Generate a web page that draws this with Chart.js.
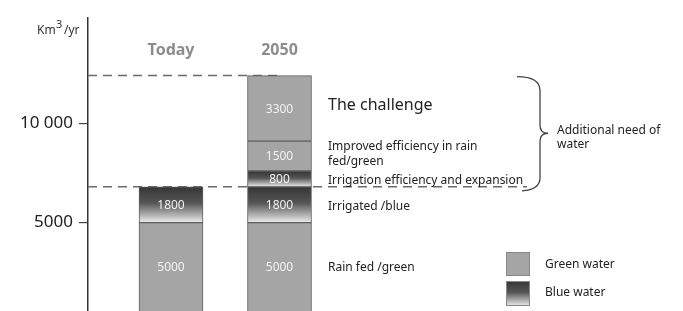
<!DOCTYPE html>
<html lang="en">
  <head>
    <meta charset="UTF-8" />
    <title>Water need 2050</title>
    <script src="https://cdn.jsdelivr.net/npm/chart.js@4.4.0/dist/chart.umd.min.js"></script>
    <style>
      html, body { margin: 0; padding: 0; background: #fff; }
      #wrap { width: 683px; height: 311px; }
    </style>
  </head>
  <body>
    <div id="wrap"><canvas id="myChart" width="683" height="311"></canvas></div>
    <script>
      const categories = ["Today", "2050"];
      const rainFed = [5000, 5000];
      const irrigated = [1800, 1800];
      const irrigationGain = [null, 800];
      const rainFedGain = [null, 1500];
      const challenge = [null, 3300];
      const yTicks = [5000, 10000];

      const notes = [
        "Rain fed /green",
        "Irrigated /blue",
        "Irrigation efficiency and expansion",
        ["Improved efficiency in rain", "fed/green"],
        "The challenge"
      ];
      const braceText = ["Additional need of", "water"];
      const legendLabels = ["Green water", "Blue water"];

      const FONT = "'Noto Sans', sans-serif";
      const GREEN = "#a5a5a5";

      function blueGradient(ctx, top, bottom) {
        const g = ctx.createLinearGradient(0, top, 0, bottom);
        g.addColorStop(0, "#353535");
        g.addColorStop(0.45, "#555555");
        g.addColorStop(0.8, "#b5b5b5");
        g.addColorStop(1, "#ececec");
        return g;
      }

      const layers = [rainFed, irrigated, irrigationGain, rainFedGain, challenge];
      const kinds = ["green", "blue", "blue", "green", "green"];

      function stackTop(di, i) {
        let s = 0;
        for (let k = 0; k <= di; k++) s += layers[k][i] || 0;
        return s;
      }

      const datasets = layers.map((values, di) => ({
        label: typeof notes[di] === "string" ? notes[di] : notes[di].join(" "),
        data: values.map((v, i) => ({ x: i + 1, y: v })),
        backgroundColor: c => {
          if (kinds[di] === "green") return GREEN;
          const chart = c.chart;
          const ys = chart.scales.y;
          if (!ys || c.dataIndex === undefined) return "#555";
          const top = ys.getPixelForValue(stackTop(di, c.dataIndex));
          const bot = ys.getPixelForValue(stackTop(di, c.dataIndex) - (values[c.dataIndex] || 0));
          if (!isFinite(top) || !isFinite(bot)) return "#555";
          return blueGradient(chart.ctx, top, bot);
        },
        borderColor: "#5e5e5e",
        borderWidth: 1,
        borderSkipped: false,
        barThickness: 64
      }));

      const totals = categories.map((c, i) => stackTop(layers.length - 1, i));

      const drawings = {
        id: "drawings",
        beforeDatasetsDraw(chart) {
          const { ctx, scales: { x, y }, chartArea } = chart;
          ctx.save();
          ctx.strokeStyle = "#6a6a6a";
          ctx.lineWidth = 1.5;
          ctx.setLineDash([9, 6]);
          const yTop = y.getPixelForValue(Math.max(...totals));
          ctx.beginPath();
          ctx.moveTo(chartArea.left, yTop);
          ctx.lineTo(x.getPixelForValue(2), yTop);
          ctx.stroke();
          const yLow = y.getPixelForValue(totals[0]);
          ctx.beginPath();
          ctx.moveTo(chartArea.left, yLow);
          ctx.lineTo(527, yLow);
          ctx.stroke();
          ctx.restore();
        },
        afterDatasetsDraw(chart) {
          const { ctx, scales: { x, y }, chartArea } = chart;
          ctx.save();
          // values inside the segments
          ctx.fillStyle = "#f2f2f2";
          ctx.font = "12px " + FONT;
          ctx.textAlign = "center";
          ctx.textBaseline = "middle";
          chart.data.datasets.forEach((ds, di) => {
            chart.getDatasetMeta(di).data.forEach((el, i) => {
              const v = layers[di][i];
              if (v == null) return;
              const bottom = Math.min(el.base, chartArea.bottom);
              ctx.fillText(String(v), el.x, (el.y + bottom) / 2 + 1);
            });
          });

          // notes on the right of 2050 bar
          ctx.fillStyle = "#222";
          ctx.textAlign = "left";
          const meta2050 = i => chart.getDatasetMeta(i).data[1];
          notes.forEach((n, di) => {
            const el = meta2050(di);
            const mid = (el.y + Math.min(el.base, chartArea.bottom)) / 2;
            if (di === 4) {
              ctx.font = "16px " + FONT;
              ctx.fillText(n, 328, mid - 3);
            } else if (Array.isArray(n)) {
              ctx.font = "12px " + FONT;
              ctx.fillText(n[0], 328, mid - 9);
              ctx.fillText(n[1], 328, mid + 6);
            } else {
              ctx.font = "12px " + FONT;
              ctx.fillText(n, 328, mid + (di === 0 ? 1 : 2));
            }
          });

          // brace
          const top = y.getPixelForValue(Math.max(...totals)) + 1;
          const bot = y.getPixelForValue(totals[0]) + 3;
          const mid = (top + bot) / 2;
          ctx.strokeStyle = "#444";
          ctx.lineWidth = 1.3;
          ctx.beginPath();
          ctx.moveTo(517, top);
          ctx.quadraticCurveTo(540, top, 540, top + 14);
          ctx.lineTo(540, mid - 8);
          ctx.quadraticCurveTo(540, mid, 548, mid);
          ctx.quadraticCurveTo(540, mid, 540, mid + 8);
          ctx.lineTo(540, bot - 12);
          ctx.quadraticCurveTo(540, bot, 522, bot + 1);
          ctx.stroke();
          ctx.font = "12px " + FONT;
          ctx.fillText(braceText[0], 557, mid - 3);
          ctx.fillText(braceText[1], 557, mid + 11);

          // column titles
          ctx.fillStyle = "#8c8c8c";
          ctx.font = "bold 16px " + FONT;
          ctx.textAlign = "center";
          categories.forEach((c, i) => ctx.fillText(c, x.getPixelForValue(i + 1), 50));

          // unit
          ctx.fillStyle = "#333";
          ctx.textAlign = "left";
          ctx.textBaseline = "alphabetic";
          ctx.font = "12px " + FONT;
          ctx.fillText("Km", 37, 34);
          ctx.font = "11px " + FONT;
          ctx.fillText("3", 56, 28);
          ctx.font = "12px " + FONT;
          ctx.fillText("/yr", 64, 34);

          // legend
          ctx.textBaseline = "middle";
          ctx.strokeStyle = "#888";
          ctx.lineWidth = 1;
          ctx.fillStyle = GREEN;
          ctx.fillRect(506, 252, 24, 24);
          ctx.strokeRect(506.5, 252.5, 23, 23);
          ctx.fillStyle = blueGradient(ctx, 281, 306);
          ctx.fillRect(506, 281, 24, 25);
          ctx.strokeRect(506.5, 281.5, 23, 24);
          ctx.fillStyle = "#222";
          ctx.font = "12px " + FONT;
          ctx.fillText(legendLabels[0], 545, 265);
          ctx.fillText(legendLabels[1], 545, 293);
          ctx.restore();
        }
      };

      const ctx = document.getElementById("myChart").getContext("2d");
      const chart = new Chart(ctx, {
        type: "bar",
        data: { datasets },
        options: {
          responsive: false,
          animation: false,
          layout: { padding: { top: 18, left: 0, right: 0, bottom: 0 } },
          plugins: { legend: { display: false }, tooltip: { enabled: false } },
          scales: {
            x: { type: "linear", min: 0.235, max: 5.719, stacked: true, display: false, offset: false },
            y: {
              stacked: true,
              min: 550,
              max: 15300,
              afterFit: s => { s.width = 88; s.paddingTop = 0; s.paddingBottom = 0; },
              afterBuildTicks: s => { s.ticks = yTicks.map(v => ({ value: v })); },
              border: { display: true, color: "#333", width: 1.5 },
              grid: { drawOnChartArea: false, drawTicks: true, tickLength: 9, color: "#444", lineWidth: 1.2 },
              ticks: {
                padding: 6,
                color: "#222",
                font: { family: "'Noto Sans', sans-serif", size: 17 },
                callback: v => (v >= 10000 ? String(v).replace(/(\d)(?=(\d{3})+$)/, "$1 ") : String(v))
              }
            }
          }
        },
        plugins: [drawings]
      });
    </script>
  </body>
</html>
